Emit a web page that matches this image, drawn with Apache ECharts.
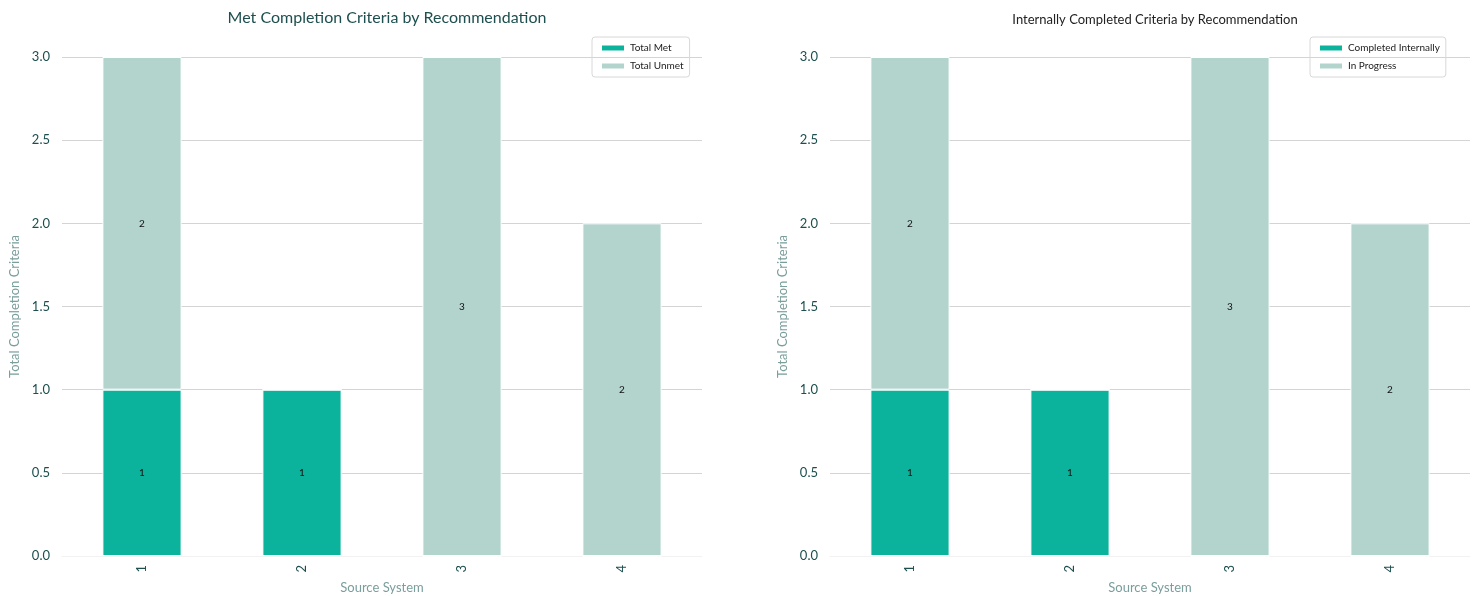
<!DOCTYPE html>
<html>
<head>
<meta charset="utf-8">
<script src="https://cdn.jsdelivr.net/npm/echarts@6/dist/echarts.min.js"></script>
<style>
  html, body { margin: 0; padding: 0; background: #ffffff; }
  #chart { width: 1478px; height: 596px; }
</style>
</head>
<body>
<div id="chart"></div>
<script>
// Source systems on the x axis
const categories = ['1', '2', '3', '4'];

// Left panel: met vs unmet completion criteria
const totalMet = [1, 1, 0, 0];
const totalUnmet = [2, 0, 3, 2];

// Right panel: internally completed vs in progress
const completedInternally = [1, 1, 0, 0];
const inProgress = [2, 0, 3, 2];

const yTicks = { min: 0, max: 3, interval: 0.5 };

const FONT = 'Lato, "Open Sans", sans-serif';
const GREEN = '#0bb39c';
const PALE = '#b3d3cd';
const DARK = '#1d4f4f';
const MUTED = '#7a9e9c';

function yAxis(gridIndex) {
  return {
    type: 'value', gridIndex,
    min: yTicks.min, max: yTicks.max, interval: yTicks.interval,
    name: 'Total Completion Criteria',
    nameLocation: 'middle', nameGap: 41,
    nameTextStyle: { color: MUTED, fontSize: 13, fontFamily: FONT },
    axisLine: { show: false }, axisTick: { show: false },
    axisLabel: {
      color: DARK, fontSize: 13, fontFamily: FONT, margin: 12,
      formatter: v => v.toFixed(1)
    },
    splitLine: { lineStyle: { color: '#d4d4d4', width: 1 } }
  };
}

function xAxis(gridIndex) {
  return {
    type: 'category', gridIndex, data: categories,
    name: 'Source System', nameLocation: 'middle', nameGap: 25,
    nameTextStyle: { color: MUTED, fontSize: 13, fontFamily: FONT },
    axisLine: { show: true, lineStyle: { color: '#f2f2f2' } },
    axisTick: { show: false },
    axisLabel: { color: DARK, fontSize: 13, fontFamily: FONT, rotate: 90, margin: 9 }
  };
}

function barSeries(name, data, color, idx) {
  return {
    name, type: 'bar', stack: 's' + idx, data,
    xAxisIndex: idx, yAxisIndex: idx,
    barWidth: '49.5%',
    itemStyle: { color, borderColor: '#ffffff', borderWidth: 1 },
    label: {
      show: true, position: 'inside', color: '#111', fontSize: 10, fontFamily: FONT,
      formatter: p => (p.value ? String(p.value) : '')
    }
  };
}

function legend(left, names) {
  return {
    left, top: 37, orient: 'vertical', data: names,
    itemWidth: 24, itemHeight: 7, itemGap: 8,
    borderColor: '#d8d8d8', borderWidth: 1, borderRadius: 3,
    padding: [6, 6, 6, 8],
    textStyle: { color: '#222', fontSize: 10, fontFamily: FONT },
    icon: 'rect'
  };
}

const chart = echarts.init(document.getElementById('chart'), null, { renderer: 'canvas' });
chart.setOption({
  animation: false,
  backgroundColor: '#ffffff',
  title: [
    { text: 'Met Completion Criteria by Recommendation', left: 382, top: 5, textAlign: 'center',
      textStyle: { color: DARK, fontSize: 16, fontWeight: 'normal', fontFamily: FONT } },
    { text: 'Internally Completed Criteria by Recommendation', left: 1150, top: 8, textAlign: 'center',
      textStyle: { color: '#222', fontSize: 13, fontWeight: 'normal', fontFamily: FONT } }
  ],
  legend: [
    legend(592, ['Total Met', 'Total Unmet']),
    legend(1310, ['Completed Internally', 'In Progress'])
  ],
  grid: [
    { left: 62, width: 640, top: 57, height: 499, outerBoundsMode: 'none', containLabel: false },
    { left: 830, width: 640, top: 57, height: 499, outerBoundsMode: 'none', containLabel: false }
  ],
  xAxis: [xAxis(0), xAxis(1)],
  yAxis: [yAxis(0), yAxis(1)],
  series: [
    barSeries('Total Met', totalMet, GREEN, 0),
    barSeries('Total Unmet', totalUnmet, PALE, 0),
    barSeries('Completed Internally', completedInternally, GREEN, 1),
    barSeries('In Progress', inProgress, PALE, 1)
  ]
});
</script>
</body>
</html>
